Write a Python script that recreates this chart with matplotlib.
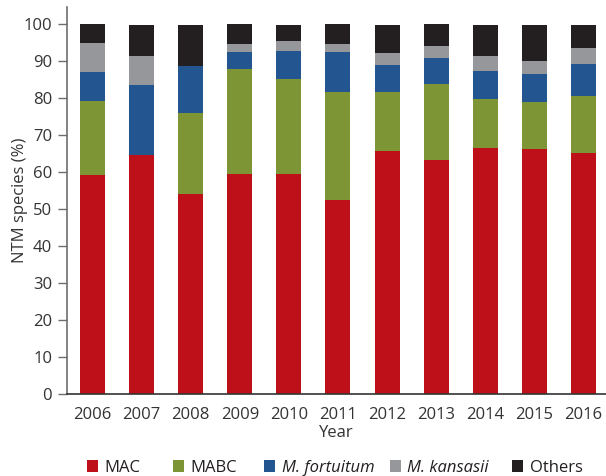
import matplotlib
matplotlib.use("Agg")
import matplotlib.pyplot as plt
import numpy as np

plt.rcParams['font.family'] = ['Open Sans', 'DejaVu Sans']

years = ['2006', '2007', '2008', '2009', '2010', '2011', '2012', '2013', '2014', '2015', '2016']
mac = [59.1, 64.4, 54.0, 59.4, 59.4, 52.4, 65.6, 63.2, 66.4, 66.2, 65.1]
mabc = [20.1, 0.0, 21.9, 28.4, 25.7, 29.2, 16.0, 20.6, 13.3, 12.7, 15.4]
fortuitum = [7.8, 19.1, 12.7, 4.6, 7.6, 10.8, 7.3, 7.0, 7.6, 7.6, 8.7]
kansasii = [7.9, 7.8, 0.0, 2.2, 2.7, 2.2, 3.3, 3.2, 4.0, 3.5, 4.3]
others = [5.1, 8.4, 11.1, 5.4, 4.3, 5.4, 7.5, 6.0, 8.4, 9.7, 6.2]

series = [mac, mabc, fortuitum, kansasii, others]
labels = ['MAC', 'MABC', 'M. fortuitum', 'M. kansasii', 'Others']
colors = ['#BE1019', '#7E9535', '#235591', '#96979A', '#231F20']

fig = plt.figure(figsize=(6.06, 4.76), dpi=100)
ax = fig.add_axes([0.110, 0.1733, 0.890, 0.8114])

x = np.arange(len(years))
bottom = np.zeros(len(years))
bars = []
for vals, lab, col in zip(series, labels, colors):
    b = ax.bar(x, vals, width=0.51, bottom=bottom, color=col, label=lab, linewidth=0)
    bars.append(b)
    bottom += np.array(vals)

ax.set_xlim(-0.525, 10.458)
ax.set_ylim(0, 104.5)
ax.set_xticks(x)
ax.set_xticklabels(years)
ax.set_yticks(np.arange(0, 101, 10))
ax.tick_params(axis='y', direction='out', length=6.5, width=1, color='#6d6e71',
               labelsize=12, labelcolor='#333333', pad=4)
ax.tick_params(axis='x', length=0, labelsize=12, labelcolor='#333333', pad=10)
for s in ['top', 'right']:
    ax.spines[s].set_visible(False)
ax.spines['left'].set_color('#6d6e71')
ax.spines['left'].set_linewidth(1.2)
ax.spines['bottom'].set_color('#333333')
ax.spines['bottom'].set_linewidth(1.2)

ax.set_xlabel('Year', fontsize=12, color='#333333', labelpad=1)
ax.set_ylabel('NTM species (%)', fontsize=12, color='#333333')
ax.yaxis.set_label_coords(-0.072, 0.5)

leg_x = [87, 173, 264, 389.5, 512]
for b, lab, lx in zip(bars, labels, leg_x):
    lg = fig.legend(handles=[b], labels=[lab], loc='center left',
                    bbox_to_anchor=(lx / 606, 1 - 468 / 476), frameon=False,
                    fontsize=12, handlelength=0.66, handleheight=0.72,
                    handletextpad=0.4, borderpad=0, borderaxespad=0)
    for t in lg.get_texts():
        t.set_color('#231F20')
        if lab.startswith('M. '):
            t.set_fontstyle('italic')

fig.savefig('out.png', dpi=100)
